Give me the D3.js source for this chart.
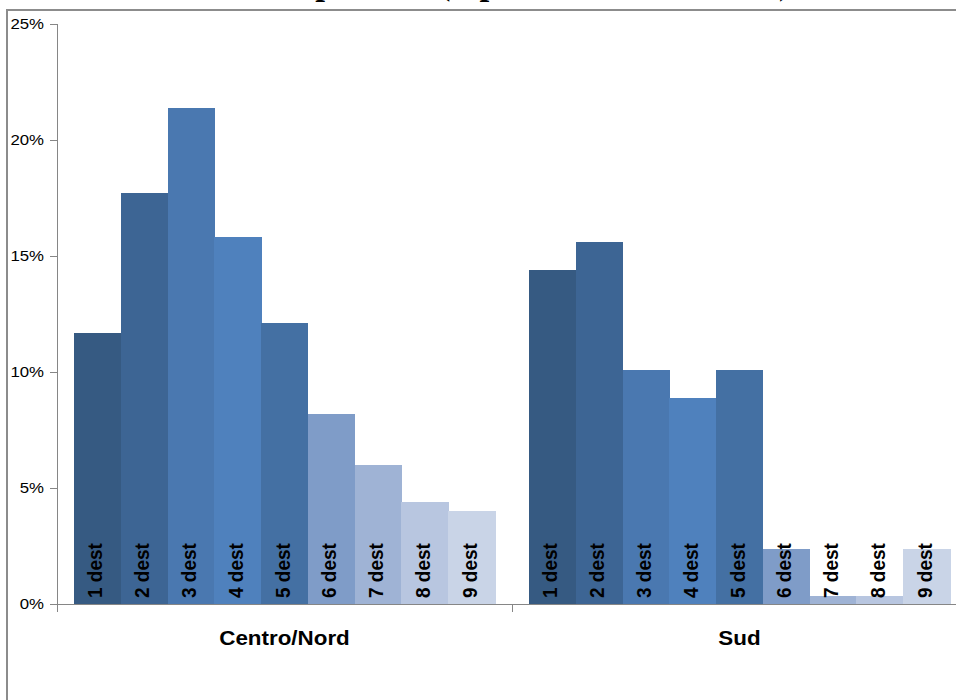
<!DOCTYPE html>
<html>
<head>
<meta charset="utf-8">
<script src="https://cdn.jsdelivr.net/npm/d3@7"></script>
<style>
  html, body { margin: 0; padding: 0; background: #fff; }
  svg { display: block; }
</style>
</head>
<body>
<script>
// Share of firms by number of destinations, per macro-area (%)
const categories = ["Centro/Nord", "Sud"];
const seriesNames = ["1 dest", "2 dest", "3 dest", "4 dest", "5 dest", "6 dest", "7 dest", "8 dest", "9 dest"];
const centroNord = [11.7, 17.7, 21.4, 15.8, 12.1, 8.2, 6.0, 4.4, 4.0];
const sud = [14.4, 15.6, 10.1, 8.9, 10.1, 2.35, 0.35, 0.35, 2.35];
const yTicks = [0, 5, 10, 15, 20, 25];
const seriesColors = ["#365a82", "#3d6594", "#4a78b0", "#4f81bd", "#4470a3",
                      "#7f9cc8", "#9fb3d5", "#b8c6e0", "#c9d4e7"];
const chartTitle = "Area di occupazione (dipendenti medi totali)";

const valuesByCategory = [centroNord, sud];

const W = 956, H = 700;
const plot = { left: 57, right: 967, top: 24, bottom: 604 };
const sx = 1.12; // horizontal glyph stretch of the labels

const svg = d3.select("body").append("svg")
  .attr("width", W).attr("height", H);

// chart area frame
svg.append("rect")
  .attr("x", 7).attr("y", 10)
  .attr("width", 1000).attr("height", 760)
  .attr("fill", "#fff")
  .attr("stroke", "#8c8c8c").attr("stroke-width", 2);

// title (sits above the frame)
svg.append("text")
  .attr("x", 459).attr("y", -6)
  .attr("text-anchor", "middle")
  .attr("font-family", "'Liberation Serif', 'Times New Roman', serif")
  .attr("font-weight", "bold")
  .attr("font-size", 35)
  .text(chartTitle);

const x0 = d3.scaleBand().domain(categories).range([plot.left, plot.right]).padding(0);
const x1 = d3.scaleBand().domain(seriesNames)
  .range([17, x0.bandwidth() - 17]).padding(0);
const y = d3.scaleLinear().domain([0, 25]).range([plot.bottom, plot.top]);

// bars
const groups = svg.append("g").selectAll("g")
  .data(categories)
  .join("g")
  .attr("transform", d => `translate(${x0(d)},0)`);

groups.selectAll("rect")
  .data((c, i) => valuesByCategory[i].map((v, j) => ({ name: seriesNames[j], value: v, idx: j })))
  .join("rect")
  .attr("x", d => x1(d.name))
  .attr("width", x1.bandwidth() + 0.5)
  .attr("y", d => y(d.value))
  .attr("height", d => y(0) - y(d.value))
  .attr("shape-rendering", "crispEdges")
  .attr("fill", d => seriesColors[d.idx]);

// series labels at the base of each bar
groups.selectAll("text.bar-label")
  .data((c, i) => valuesByCategory[i].map((v, j) => ({ name: seriesNames[j], value: v })))
  .join("text")
  .attr("class", "bar-label")
  .attr("transform", d => `translate(${x1(d.name) + x1.bandwidth() / 2 + 5},${y(0) - 6}) scale(1.1,1) rotate(-90)`)
  .attr("text-anchor", "start")
  .attr("font-family", "Arial, 'Liberation Sans', sans-serif")
  .attr("font-weight", "bold")
  .attr("font-size", 19)
  .attr("fill", "#000")
  .text(d => d.name);

// y axis
const yAxis = svg.append("g")
  .attr("transform", `translate(${plot.left},0)`)
  .call(d3.axisLeft(y).tickValues(yTicks).tickSize(7).tickSizeOuter(0).tickFormat(d => d + "%"));
yAxis.select(".domain").attr("stroke", "#868686").attr("d", `M0.5,${plot.top}V${plot.bottom + 8}`);
yAxis.selectAll(".tick line").attr("stroke", "#868686");
yAxis.selectAll(".tick text")
  .attr("x", -11.6)
  .attr("transform", `scale(${sx},1)`)
  .attr("font-family", "Arial, 'Liberation Sans', sans-serif")
  .attr("font-size", 15)
  .attr("fill", "#000");

// x axis with group separators
const xAxis = svg.append("g").attr("transform", `translate(0,${plot.bottom})`);
xAxis.append("line")
  .attr("x1", plot.left).attr("x2", plot.right)
  .attr("y1", 0.5).attr("y2", 0.5)
  .attr("stroke", "#868686");
xAxis.selectAll("line.sep")
  .data(categories.map(c => x0(c)).concat([plot.right]))
  .join("line")
  .attr("class", "sep")
  .attr("x1", d => Math.round(d) + 0.5).attr("x2", d => Math.round(d) + 0.5)
  .attr("y1", 0).attr("y2", 8)
  .attr("stroke", "#868686");

// category labels
svg.append("g").selectAll("text")
  .data(categories)
  .join("text")
  .attr("transform", d => `translate(${x0(d) + x0.bandwidth() / 2},${645}) scale(${sx},1)`)
  .attr("text-anchor", "middle")
  .attr("font-family", "Arial, 'Liberation Sans', sans-serif")
  .attr("font-weight", "bold")
  .attr("font-size", 20)
  .attr("fill", "#000")
  .text(d => d);
</script>
</body>
</html>
